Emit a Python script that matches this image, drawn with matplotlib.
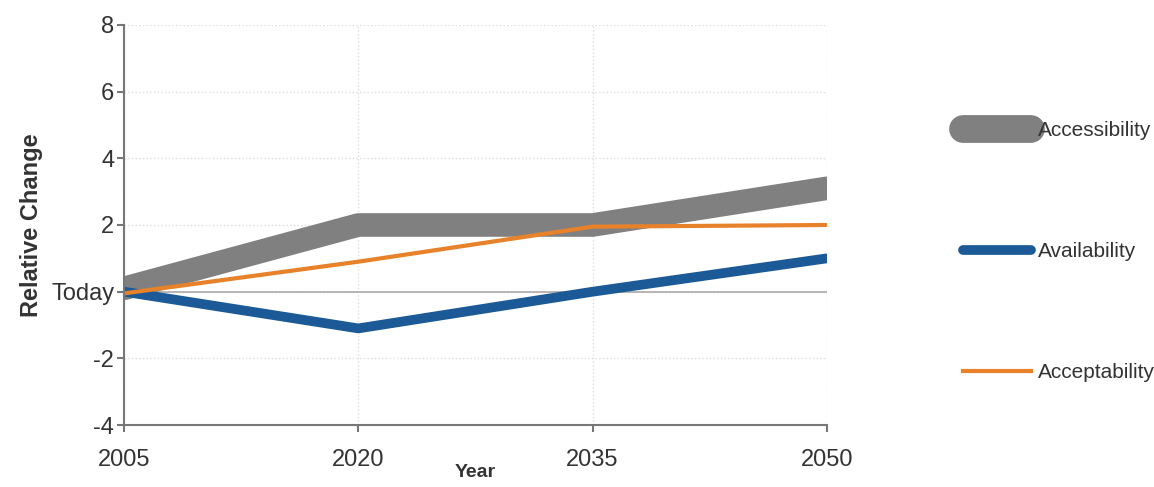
import matplotlib.pyplot as plt

plt.rcParams['font.family'] = ['Liberation Sans Narrow', 'Liberation Sans', 'DejaVu Sans']

years = [2005, 2020, 2035, 2050]
accessibility = [0.1, 2.0, 2.0, 3.1]
availability = [0.0, -1.1, 0.0, 1.0]
acceptability = [-0.05, 0.9, 1.95, 2.0]

yticks = [-4, -2, 0, 2, 4, 6, 8]
ylabels = ['-4', '-2', 'Today', '2', '4', '6', '8']

fig = plt.figure(figsize=(11.54, 4.87), dpi=100)
ax = fig.add_axes([0.1075, 0.127, 0.609, 0.822])

ax.plot(years, accessibility, color='#808080', lw=17, solid_capstyle='round',
        solid_joinstyle='round', label='Accessibility')
ax.plot(years, availability, color='#1b5a96', lw=7, solid_capstyle='round',
        solid_joinstyle='round', label='Availability')
ax.plot(years, acceptability, color='#e8822a', lw=3, label='Acceptability')

ax.set_xlim(2005, 2050)
ax.set_ylim(-4, 8)
ax.set_xticks(years)
ax.set_yticks(yticks)
ax.set_yticklabels(ylabels)

ax.grid(True, color='#dddddd', lw=1, ls=':')
ax.set_axisbelow(True)
ax.axhline(0, color='#aaaaaa', lw=1.2, zorder=1)

for s in ['top', 'right']:
    ax.spines[s].set_visible(False)
for s in ['left', 'bottom']:
    ax.spines[s].set_color('#777777')
    ax.spines[s].set_linewidth(1.5)

ax.tick_params(axis='both', labelsize=17, colors='#777777', labelcolor='#333333',
               length=5, width=1.5)
ax.tick_params(axis='x', pad=12)
ax.tick_params(axis='y', pad=2)

ax.set_ylabel('Relative Change', fontsize=17, fontweight='bold', labelpad=6, color='#333333')
ax.set_xlabel('Year', fontsize=14, fontweight='bold', labelpad=-5, color='#333333')

leg = fig.legend(loc='upper left', bbox_to_anchor=(0.818, 0.79), frameon=False,
                 fontsize=15, labelspacing=4.9, handlelength=3.3, handletextpad=0.3)
leg.legend_handles[0].set_linewidth(20)
for t in leg.get_texts():
    t.set_color('#333333')

fig.savefig('out.png', dpi=100)
